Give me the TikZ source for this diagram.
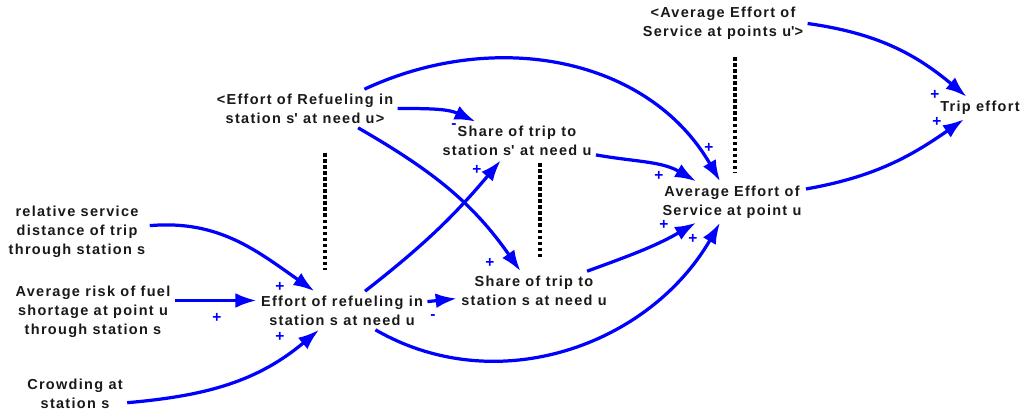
\documentclass[tikz,border=0pt]{standalone}
\usepackage{fontspec}
\setmainfont{Liberation Sans}[LetterSpace=9]
\usepackage{tikz}
\usetikzlibrary{positioning,arrows.meta}

\begin{document}
\begin{tikzpicture}[
    x=0.025cm, y=0.025cm,
    var/.style={
        align=center,
        inner sep=3pt,
        font=\fontsize{10.3}{13.5}\selectfont\bfseries,
        text=black!90
    },
    pol/.style={
        text=blue,
        inner sep=0pt,
        font=\fontsize{11}{11}\selectfont\bfseries
    },
    arrow/.style={
        -{Latex[length=15pt,width=10.5pt]},
        line width=2.3pt,
        draw=blue
    },
    shadow/.style={
        line width=2.2pt,
        dash pattern=on 2.5pt off 1.8pt,
        draw=black
    }
]
\useasboundingbox (0,0) rectangle (1034,417);

% Left column: inputs of the refueling effort
\node[var] (rel) at (77,185) {relative service\\distance of trip\\through station s};
\node[var] (risk) at (93,105) {Average risk of fuel\\shortage at point u\\through station s};
\node[var] (crowd) at (75,23.5) {Crowding at\\station s};

% Middle: refueling effort and trip shares
\node[var] (effs) at (342,106.5) {Effort of refueling in\\station s at need u};
\node[var] (effsp) at (305,308.5) {<Effort of Refueling in\\station s\textquotesingle{} at need u>};
\node[var] (sharesp) at (517,276) {Share of trip to\\station s\textquotesingle{} at need u};
\node[var] (shares) at (534,126.5) {Share of trip to\\station s at need u};

% Right: service effort and trip effort
\node[var] (avg) at (732,215) {Average Effort of\\Service at point u};
\node[var] (avgp) at (723,393.5) {<Average Effort of\\Service at points u\textquotesingle>};
\node[var] (trip) at (980,309) {Trip effort};

% Dotted separators
\draw[shadow] (325,264) -- (325,147);
\draw[shadow] (540,254) -- (540,159);
\draw[shadow] (735,360) -- (735,244);

% Connections
\draw[arrow] (rel) to[out=5,in=145] (effs);
\draw[arrow] (risk.8) -- (risk.8 -| effs.west);
\draw[arrow] (crowd.-10) to[out=5,in=220] (effs);

\draw[arrow] (effsp) to[out=0,in=155] (sharesp);
\draw[arrow] (effsp.-20) to[out=-30,in=125] (shares);
\draw[arrow] (effsp.18) to[out=25,in=120] (avg);

\draw[arrow] (effs.40) to[out=38,in=230] (sharesp);
\draw[arrow] (effs) -- (shares);
\draw[arrow] (effs) to[out=-30,in=240] (avg);

\draw[arrow] (sharesp) to[out=-10,in=150] (avg);
\draw[arrow] (shares) to[out=20,in=210] (avg);

\draw[arrow] (avgp.east) to[out=-8,in=140] (trip);
\draw[arrow] (avg) to[out=10,in=215] (trip);

% Polarities
\node[pol] (p1) at (280,130) {+};
\node[pol] (p2) at (217,99) {+};
\node[pol] (p3) at (280,80) {+};
\node[pol] (p4) at (454,291) {-};
\node[pol] (p5) at (490,154) {+};
\node[pol] (p6) at (477,247) {+};
\node[pol] (p7) at (433,100) {-};
\node[pol] (p8) at (693,178) {+};
\node[pol] (p9) at (659,241) {+};
\node[pol] (p10) at (709,269) {+};
\node[pol] (p11) at (664,192) {+};
\node[pol] (p12) at (935,322) {+};
\node[pol] (p13) at (937,295) {+};

\end{tikzpicture}
\end{document}
